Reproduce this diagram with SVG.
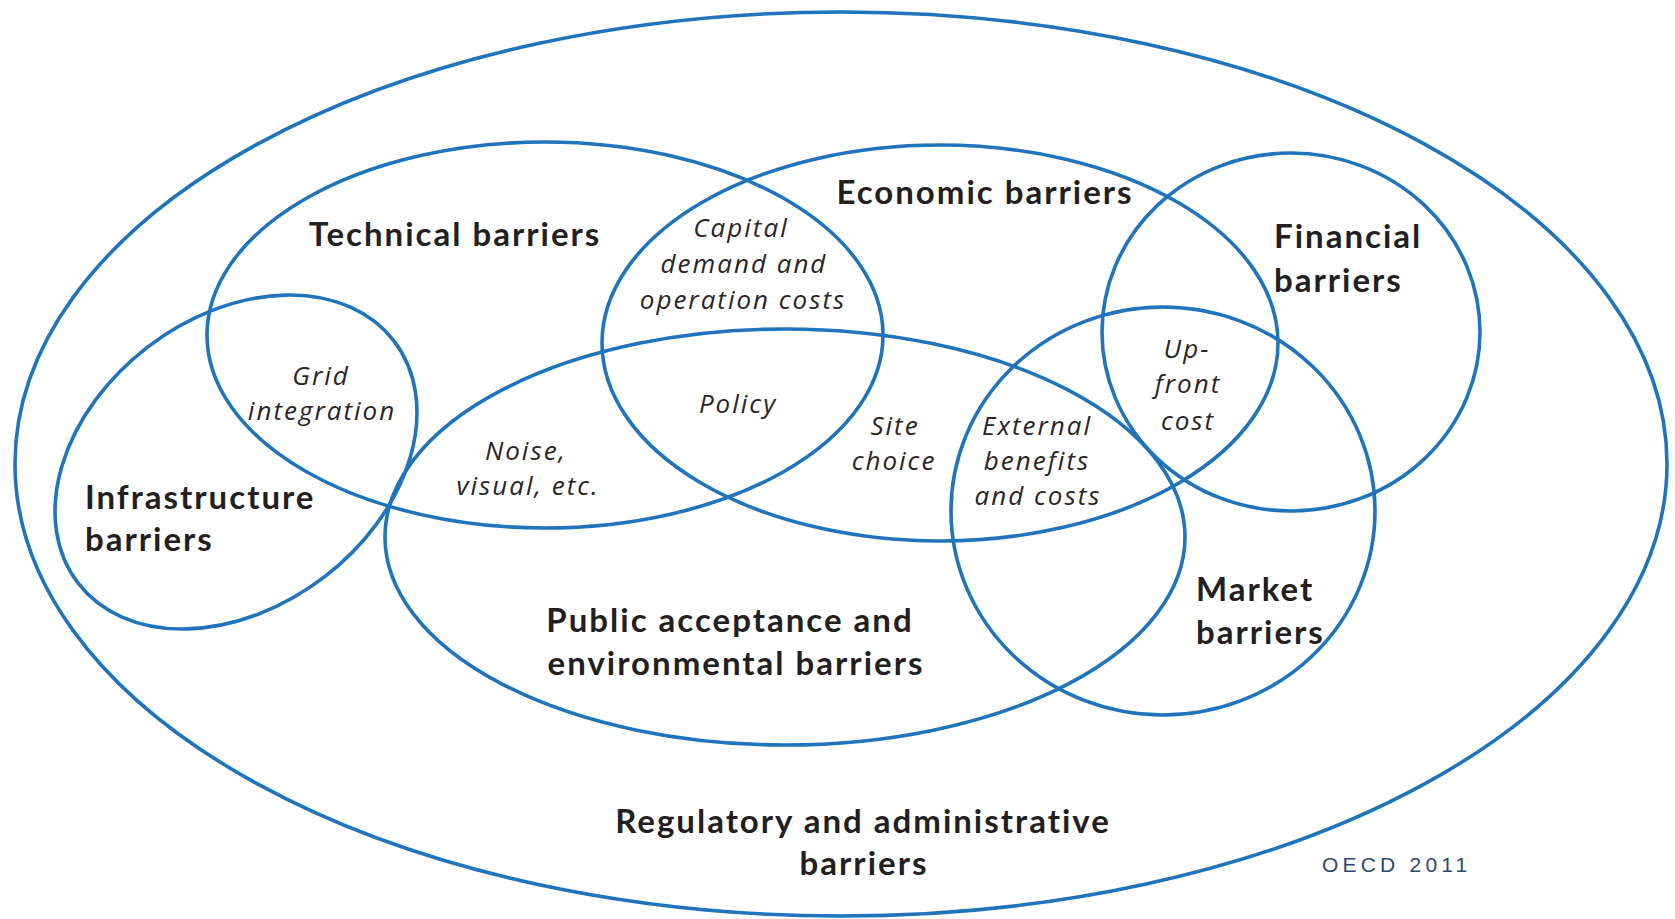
<svg xmlns="http://www.w3.org/2000/svg" width="1675" height="919" viewBox="0 0 1675 919">
<style>
.ring{fill:none;stroke:#1f74bb;stroke-width:3.6}
.b{font-family:Lato,"Liberation Sans",sans-serif;font-weight:bold;font-size:33px;letter-spacing:2px;fill:#231f20}
.i{font-family:"Open Sans","Liberation Sans",sans-serif;font-style:italic;font-size:26px;letter-spacing:2px;fill:#2a2526;text-anchor:middle}
.m{text-anchor:middle}
.src{font-family:"Liberation Sans",Arial,sans-serif;font-size:21px;fill:#2c4a6e;letter-spacing:4.2px}
</style>
<rect width="1675" height="919" fill="#ffffff"/>
<g id="regulatory">
<ellipse class="ring" cx="841" cy="464" rx="826" ry="452"/>
<text class="b m" x="863" y="833">Regulatory and administrative</text>
<text class="b m" x="864" y="875">barriers</text>
</g>
<g id="technical">
<ellipse class="ring" cx="545" cy="335" rx="338" ry="193"/>
<text class="b m" x="455" y="246">Technical barriers</text>
</g>
<g id="economic">
<ellipse class="ring" cx="940" cy="343" rx="338" ry="198"/>
<text class="b m" x="985" y="204">Economic barriers</text>
</g>
<g id="financial">
<ellipse class="ring" cx="1291" cy="332" rx="189" ry="179"/>
<text class="b" x="1274" y="248">Financial</text>
<text class="b" x="1274" y="292">barriers</text>
</g>
<g id="market">
<ellipse class="ring" cx="1163" cy="511" rx="212" ry="204"/>
<text class="b" x="1196" y="601">Market</text>
<text class="b" x="1196" y="644">barriers</text>
</g>
<g id="public">
<ellipse class="ring" cx="785" cy="537" rx="400" ry="208"/>
<text class="b m" x="730" y="632">Public acceptance and</text>
<text class="b m" x="736" y="675">environmental barriers</text>
</g>
<g id="infrastructure">
<ellipse class="ring" cx="236" cy="462" rx="199" ry="145" transform="rotate(-37.4 236 462)"/>
<text class="b" x="85" y="509">Infrastructure</text>
<text class="b" x="85" y="551">barriers</text>
</g>
<g id="grid-integration">
<text class="i" x="321" y="385">Grid</text>
<text class="i" x="322" y="420">integration</text>
</g>
<g id="capital-demand">
<text class="i" x="741" y="237">Capital</text>
<text class="i" x="744" y="273">demand and</text>
<text class="i" x="743" y="309">operation costs</text>
</g>
<g id="policy">
<text class="i" x="738" y="413">Policy</text>
</g>
<g id="noise-visual">
<text class="i" x="526" y="460">Noise,</text>
<text class="i" x="528" y="495">visual, etc.</text>
</g>
<g id="site-choice">
<text class="i" x="895" y="435">Site</text>
<text class="i" x="894" y="470">choice</text>
</g>
<g id="external-benefits">
<text class="i" x="1037" y="435">External</text>
<text class="i" x="1037" y="470">benefits</text>
<text class="i" x="1038" y="505">and costs</text>
</g>
<g id="up-front-cost">
<text class="i" x="1187" y="358">Up-</text>
<text class="i" x="1188" y="393">front</text>
<text class="i" x="1188" y="430">cost</text>
</g>
<g id="source">
<text class="src" x="1322" y="872">OECD 2011</text>
</g>
</svg>
